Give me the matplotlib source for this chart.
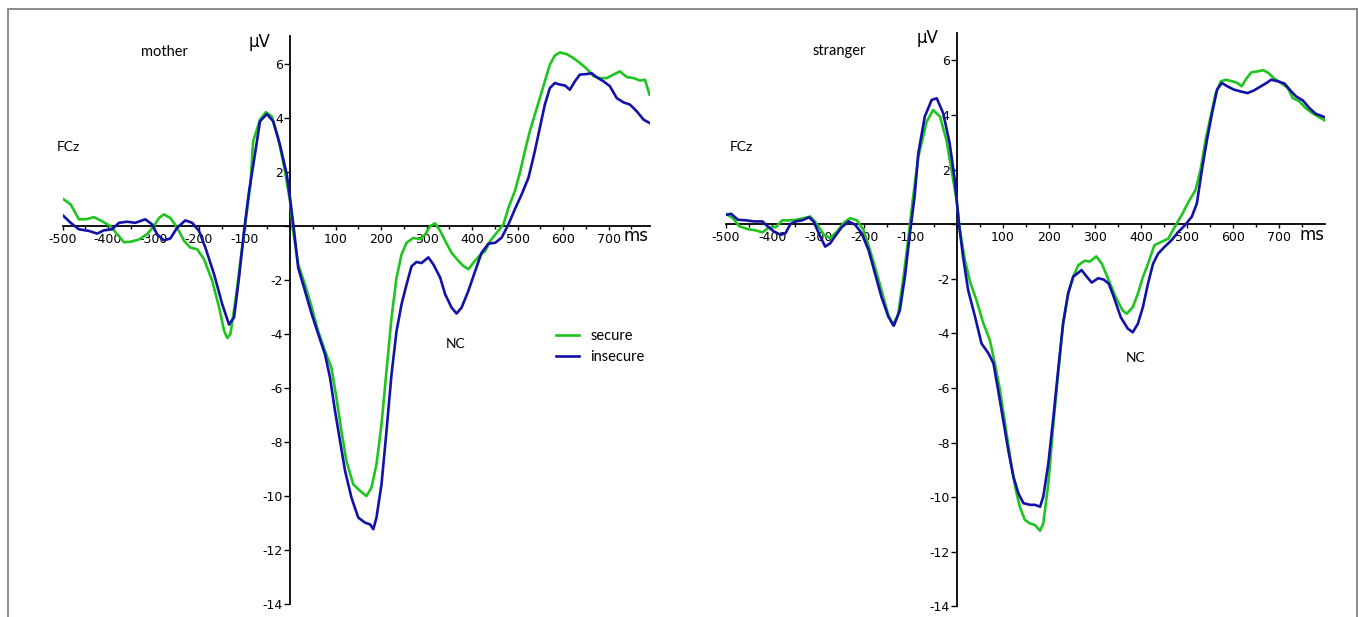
import matplotlib
matplotlib.use("Agg")
import matplotlib.pyplot as plt
from matplotlib.lines import Line2D
from matplotlib.ticker import MultipleLocator, FixedLocator

# ---------------- data ----------------
t_mother_secure = [-500,-482,-464,-449,-431,-413,-395,-380,-365,-350,-332,-314,-299,-288,-277,-263,-248,-233,-219,-204,
                   -189,-171,-156,-145,-138,-131,-120,-109,-98,-87,-81,-66,-53,-40,-26,-11,0,7,18,33,48,62,77,91,102,113,
                   124,139,154,168,179,190,201,212,223,234,245,256,271,286,297,308,319,330,341,355,370,381,392,403,418,
                   429,440,454,469,480,494,506,516,527,538,549,560,571,582,593,608,623,637,652,667,681,696,711,725,740,
                   755,769,780,790]
v_mother_secure = [1.02,0.8,0.25,0.25,0.33,0.18,0,-0.3,-0.6,-0.58,-0.5,-0.3,0,0.3,0.43,0.3,-0.06,-0.55,-0.8,-0.86,
                   -1.23,-2.03,-3.0,-3.87,-4.15,-4.0,-2.77,-1.29,0.12,1.54,3.14,3.94,4.22,4.06,3.26,2.03,0.92,-0.19,-1.43,-2.17,
                   -3.03,-3.9,-4.63,-5.25,-6.36,-7.6,-8.71,-9.57,-9.81,-10.0,-9.69,-8.83,-7.35,-5.37,-3.4,-1.92,-1.06,-0.62,
                   -0.44,-0.49,-0.31,0,0.1,-0.18,-0.55,-0.99,-1.29,-1.48,-1.6,-1.36,-1.07,-0.92,-0.55,-0.25,0.06,0.68,1.29,
                   2.03,2.77,3.51,4.13,4.74,5.36,5.98,6.32,6.43,6.37,6.22,6.04,5.83,5.55,5.48,5.48,5.61,5.73,5.52,5.48,5.39,
                   5.42,4.87]

t_mother_insecure = [-500,-482,-464,-442,-424,-409,-391,-376,-358,-340,-318,-303,-292,-277,-263,-248,-230,-215,-200,-186,
                     -167,-149,-134,-123,-112,-101,-90,-76,-66,-51,-37,-22,-7,0,9,18,33,48,62,77,88,99,110,121,135,150,
                     165,176,183,190,201,212,223,234,245,256,267,278,289,304,315,330,341,355,366,377,392,407,421,436,451,
                     465,480,494,509,524,538,549,560,571,582,593,604,615,626,637,652,663,674,689,703,718,733,747,762,777,790]
v_mother_insecure = [0.41,0.12,-0.12,-0.18,-0.28,-0.16,-0.12,0.12,0.16,0.12,0.25,0.06,-0.31,-0.53,-0.46,-0.06,0.21,0.12,-0.18,-0.8,
                     -1.78,-2.89,-3.65,-3.38,-1.9,-0.18,1.29,2.77,3.88,4.15,3.88,3.0,1.9,1.04,-0.19,-1.55,-2.41,-3.28,-4.0,-4.76,
                     -5.62,-6.86,-7.97,-9.07,-10.06,-10.8,-10.99,-11.05,-11.23,-10.8,-9.57,-7.6,-5.5,-3.9,-2.9,-2.17,-1.49,-1.33,
                     -1.37,-1.16,-1.42,-1.91,-2.53,-3.02,-3.24,-3.02,-2.4,-1.66,-0.99,-0.65,-0.62,-0.43,0.06,0.62,1.17,1.79,2.77,
                     3.64,4.5,5.11,5.3,5.24,5.21,5.05,5.36,5.61,5.63,5.66,5.51,5.36,5.18,4.74,4.58,4.5,4.25,3.94,3.82]

t_stranger_secure = [-500,-485,-471,-453,-435,-421,-406,-392,-378,-363,-349,-331,-317,-302,-288,-274,-259,-245,-231,-216,
                     -202,-188,-173,-159,-148,-138,-127,-116,-105,-95,-83,-65,-51,-36,-22,-11,0,7,18,29,43,58,72,83,94,105,
                     116,127,137,148,159,170,181,188,199,210,221,231,242,253,264,278,289,303,315,330,345,360,369,382,393,
                     404,415,429,444,459,473,488,503,518,529,540,551,562,573,584,598,609,618,628,639,654,665,676,687,701,
                     718,729,743,757,771,786,798]
v_stranger_secure = [0.38,0.22,-0.08,-0.18,-0.23,-0.3,-0.11,-0.11,0.14,0.14,0.16,0.22,0.28,-0.02,-0.39,-0.51,-0.27,0.04,0.22,0.14,
                     -0.21,-0.94,-1.8,-2.66,-3.33,-3.7,-3.33,-2.05,-0.58,0.9,2.47,3.75,4.18,3.94,3.08,1.98,0.89,-0.21,-1.31,-2.1,
                     -2.78,-3.63,-4.24,-5.1,-6.07,-7.29,-8.52,-9.62,-10.35,-10.83,-10.96,-11.02,-11.23,-10.96,-9.49,-7.29,-5.34,
                     -3.63,-2.53,-1.92,-1.5,-1.34,-1.37,-1.18,-1.45,-2.06,-2.67,-3.16,-3.28,-3.04,-2.55,-1.94,-1.45,-0.77,-0.65,
                     -0.53,-0.1,0.33,0.82,1.25,1.99,3.09,3.95,4.8,5.23,5.29,5.23,5.17,5.05,5.32,5.56,5.6,5.64,5.54,5.36,5.2,
                     4.99,4.62,4.5,4.25,4.07,3.92,3.8]

t_stranger_insecure = [-500,-489,-474,-457,-439,-421,-410,-396,-381,-371,-360,-349,-335,-320,-310,-299,-285,-274,-263,-249,
                       -234,-220,-206,-191,-177,-163,-148,-136,-123,-112,-102,-91,-83,-69,-54,-43,-29,-15,-4,5,14,25,40,54,
                       69,80,90,101,112,123,134,145,159,170,181,188,199,210,221,231,242,253,264,271,282,293,307,319,330,341,
                       356,371,382,393,404,415,426,437,451,466,481,495,510,521,532,543,554,565,575,587,601,616,631,645,660,
                       672,682,697,711,722,736,751,765,779,798]
v_stranger_insecure = [0.34,0.38,0.16,0.14,0.1,0.1,-0.08,-0.27,-0.39,-0.33,0.01,0.1,0.14,0.25,0.1,-0.33,-0.82,-0.7,-0.43,-0.11,
                       0.1,-0.02,-0.33,-0.94,-1.8,-2.66,-3.39,-3.72,-3.15,-1.92,-0.45,1.02,2.59,3.94,4.55,4.61,4.06,2.96,1.62,
                       0.03,-1.19,-2.41,-3.39,-4.37,-4.73,-5.1,-6.07,-7.17,-8.27,-9.24,-9.86,-10.22,-10.28,-10.28,-10.35,-9.98,
                       -8.76,-7.05,-5.22,-3.63,-2.53,-1.92,-1.78,-1.68,-1.92,-2.14,-1.98,-2.03,-2.18,-2.67,-3.41,-3.82,-3.96,
                       -3.65,-3.04,-2.18,-1.45,-1.08,-0.83,-0.59,-0.28,-0.04,0.27,0.76,1.99,3.09,4.07,4.93,5.17,5.05,4.93,4.86,
                       4.8,4.9,5.05,5.17,5.29,5.23,5.15,4.93,4.68,4.53,4.25,4.04,3.92]

series_labels = ["secure", "insecure"]
panel_titles = ["mother", "stranger"]
x_tick_values = [-500, -400, -300, -200, -100, 0, 100, 200, 300, 400, 500, 600, 700]
x_tick_labels = ["-500", "-400", "-300", "-200", "-100", "", "100", "200", "300", "400", "500", "600", "700"]
y_tick_values = [-14, -12, -10, -8, -6, -4, -2, 0, 2, 4, 6]
y_tick_labels = ["-14", "-12", "-10", "-8", "-6", "-4", "-2", "", "2", "4", "6"]

GREEN = "#1fc41f"
BLUE = "#1212a8"
TEXT_FONT = ["Lato", "DejaVu Sans"]

W, H = 1358, 617
fig = plt.figure(figsize=(W / 100, H / 100), dpi=100)

def px_rect(x0, x1, ytop, ybot):
    return [x0 / W, (H - ybot) / H, (x1 - x0) / W, (ybot - ytop) / H]

panels = [
    dict(rect=px_rect(62.5, 649.5, 36, 604), xlim=(-500, 790), ylim=(-14, 7.04),
         data=[(t_mother_secure, v_mother_secure), (t_mother_insecure, v_mother_insecure)],
         title=panel_titles[0], title_pos=(-275, 6.44), fcz=(-486, 2.93), nc=(365, -4.37),
         uv=(-42, 6.81), ms=(760, -0.37), legend=True),
    dict(rect=px_rect(726, 1324.6, 33.3, 606.4), xlim=(-500, 798), ylim=(-14, 6.99),
         data=[(t_stranger_secure, v_stranger_secure), (t_stranger_insecure, v_stranger_insecure)],
         title=panel_titles[1], title_pos=(-255, 6.35), fcz=(-466, 2.82), nc=(389, -4.9),
         uv=(-40, 6.82), ms=(770, -0.4), legend=False),
]

for p in panels:
    ax = fig.add_axes(p["rect"])
    ax.set_facecolor("none")
    (ts, vs), (ti, vi) = p["data"]
    ax.plot(ts, vs, color=GREEN, lw=1.9, label=series_labels[0], solid_joinstyle="round", zorder=3)
    ax.plot(ti, vi, color=BLUE, lw=1.9, label=series_labels[1], solid_joinstyle="round", zorder=4)
    ax.set_xlim(*p["xlim"])
    ax.set_ylim(*p["ylim"])
    for s in ["top", "right"]:
        ax.spines[s].set_visible(False)
    ax.spines["left"].set_position(("data", 0))
    ax.spines["bottom"].set_position(("data", 0))
    ax.spines["left"].set_linewidth(1.3)
    ax.spines["bottom"].set_linewidth(1.3)
    ax.xaxis.set_major_locator(FixedLocator(x_tick_values))
    ax.set_xticklabels(x_tick_labels)
    ax.xaxis.set_minor_locator(MultipleLocator(50))
    ax.yaxis.set_major_locator(FixedLocator(y_tick_values))
    ax.set_yticklabels(y_tick_labels)
    ax.tick_params(axis="x", which="major", direction="out", length=3, width=1.0, pad=2, labelsize=9)
    ax.tick_params(axis="x", which="minor", direction="out", length=2, width=1.0)
    ax.tick_params(axis="y", which="major", direction="out", length=4, width=1.0, pad=1, labelsize=9)
    for lab in ax.get_xticklabels() + ax.get_yticklabels():
        lab.set_family("DejaVu Sans")
    ax.text(*p["uv"], "µV", fontsize=12, ha="right", va="center", family="DejaVu Sans")
    ax.text(*p["ms"], "ms", fontsize=12, ha="center", va="center", family="DejaVu Sans")
    ax.text(*p["title_pos"], p["title"], fontsize=10.5, ha="center", va="center", family=TEXT_FONT)
    ax.text(*p["fcz"], "FCz", fontsize=10, ha="center", va="center", family=TEXT_FONT)
    ax.text(*p["nc"], "NC", fontsize=10, ha="center", va="center", family=TEXT_FONT)
    if p["legend"]:
        leg = ax.legend(loc="upper left", bbox_to_anchor=(0.8407, 0.484), frameon=False,
                        borderpad=0, borderaxespad=0, handlelength=1.6, handletextpad=0.75,
                        labelspacing=0.45, prop={"family": TEXT_FONT, "size": 10.5})

# figure border (grey frame, bottom edge outside the picture)
bc = "#8a8a8a"
fig.add_artist(Line2D([8 / W, 8 / W], [0, 1 - 9 / H], color=bc, lw=1.4))
fig.add_artist(Line2D([8 / W, 1356.5 / W], [1 - 9 / H, 1 - 9 / H], color=bc, lw=1.4))
fig.add_artist(Line2D([1356.5 / W, 1356.5 / W], [0, 1 - 9 / H], color=bc, lw=1.4))

fig.savefig("out.png", dpi=100)
